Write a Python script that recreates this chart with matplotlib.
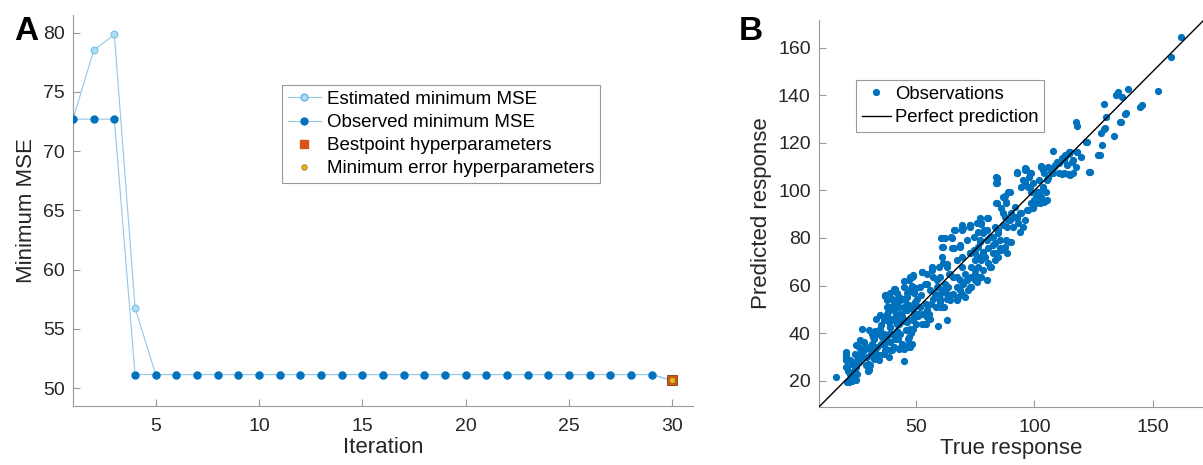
"""
Two-panel figure: (A) hyperparameter optimisation trace, (B) predicted vs true response.
"""

import numpy as np
import matplotlib.pyplot as plt
from matplotlib.lines import Line2D

plt.rcParams.update({
    'font.family': ['Liberation Sans', 'DejaVu Sans'],
    'axes.edgecolor': '#9a9a9a',
    'xtick.color': '#9a9a9a', 'ytick.color': '#9a9a9a',
    'xtick.labelcolor': '#262626', 'ytick.labelcolor': '#262626',
    'xtick.direction': 'in', 'ytick.direction': 'in',
    'axes.spines.top': False, 'axes.spines.right': False,
})

# ── panel A data ─────────────────────────────────────────────────────────────
iterations   = list(range(1, 31))
estimated    = [72.7, 78.5, 79.85, 56.8] + [51.15] * 25 + [50.65]
observed     = [72.7, 72.7, 72.7] + [51.15] * 26 + [50.65]
best_iter    = 30
best_mse     = 50.65

# ── panel B data ─────────────────────────────────────────────────────────────
true_resp = [
    162.0, 157.6, 152.0, 139.6, 135.4, 134.6, 137.1, 129.3, 130.1, 138.2, 136.0, 133.8,
    129.3, 128.2, 128.5, 126.8, 123.1, 121.7, 117.5, 117.8, 117.8, 144.4, 145.5, 107.7,
    114.4, 115.0, 113.0, 112.2, 114.1, 111.6, 110.2, 109.4, 102.9,
    102.8, 104.2, 105.6, 102.1, 103.5, 104.9, 102.8, 104.2, 100.7, 99.3, 101.4, 99.3,
    97.8, 107.0, 108.4, 110.5, 112.6, 116.1, 117.5, 119.6, 116.1, 96.6, 92.6, 95.8,
    97.1, 98.5, 94.3, 89.5, 87.4, 88.1, 91.6, 83.6, 83.6, 83.9, 88.1, 86.0, 97.1, 98.5,
    99.9, 100.6, 95.1, 95.8, 94.3, 93.0, 91.6, 90.2, 88.8, 87.4, 86.7, 84.6, 82.5, 83.2,
    85.3, 90.2, 88.1, 87.4, 86.0, 83.9, 83.2, 81.8, 80.4, 79.0, 77.6, 76.2, 78.3, 80.4,
    84.6, 83.2, 80.4, 77.6, 79.8, 76.2, 78.3, 76.9, 76.2, 74.8, 72.7, 74.8, 73.4, 69.2,
    70.6, 73.4, 72.0, 69.9, 68.5, 67.1, 67.8, 65.7, 63.6, 62.2, 65.7, 64.3, 62.9, 61.5,
    67.1, 65.2, 66.0, 64.6, 61.2, 60.5, 69.2, 72.7, 69.2, 76.9, 77.6, 60.1, 61.5, 62.9,
    64.3, 67.1, 69.2, 73.4, 74.8, 77.6, 74.8, 60.1, 61.5, 62.9, 59.1, 52.4, 54.5, 57.3,
    53.8, 55.9, 58.0, 59.4, 58.7, 56.6, 60.1, 51.7, 52.8, 53.8, 54.5, 55.2, 56.2, 57.3,
    45.4, 46.1, 46.8, 47.5, 48.2, 48.9, 49.6, 47.2, 48.2, 49.2, 50.3, 47.5, 48.9, 47.2,
    40.5, 41.9, 40.8, 42.6, 43.3, 44.0, 44.7, 42.9, 44.7, 46.1, 47.5, 48.2, 46.8, 41.9,
    43.3, 44.7, 39.1, 37.7, 39.8, 41.9, 44.0, 46.1, 44.7, 36.3, 34.9, 38.4, 37.0, 37.7,
    38.4, 39.1, 39.8, 38.8, 40.5, 41.2, 33.2, 34.9, 35.6, 36.3, 34.9, 37.0, 37.7, 30.7,
    31.4, 32.1, 31.0, 32.8, 33.5, 32.1, 32.6, 33.8, 27.1, 27.8, 29.0, 29.3, 30.0, 28.7,
    29.8, 23.1, 25.1, 26.5, 25.8, 24.5, 25.1, 24.4, 20.9, 21.1, 22.3, 21.7, 23.1, 23.7,
    20.6, 20.6, 16.2, 26.5, 27.9, 24.4, 22.3, 30.7, 31.4, 34.2, 36.3, 38.4, 39.8,
    45.0, 48.0, 50.0, 42.0, 44.0, 46.0, 49.0, 51.0, 43.0, 40.0, 38.0, 47.0, 52.0, 50.0,
    45.0, 43.0, 41.0, 39.0,
    69.3, 72.8, 65.1, 60.9, 60.9, 60.9, 68.6, 69.3, 72.8, 77.0, 81.2, 84.6, 79.9, 82.5,
    48.9, 52.4, 56.7, 59.5, 63.0, 63.7, 67.2, 71.4, 75.6, 72.8, 68.6, 70.7, 67.2, 64.4,
    61.6, 58.8, 54.6, 51.7, 48.9, 46.1, 43.3, 40.5, 37.7, 37.0, 41.2, 48.2, 60.2, 60.2,
    63.0, 54.6, 56.0, 52.4, 50.3, 45.4, 43.3, 40.5, 37.7, 39.1, 46.1, 48.9, 77.0, 79.9,
    74.9, 78.4,
    84.1, 84.1, 92.5, 96.0, 98.1, 103.1, 95.3, 98.1, 100.9, 103.7, 105.1, 102.3, 99.5,
    96.7, 93.9, 92.5, 89.7, 88.3, 86.9, 89.0, 86.9, 84.1, 84.8, 81.3, 78.5, 75.7, 72.8,
    70.0, 66.5, 79.9, 74.3, 77.0, 71.5, 68.7, 65.9, 62.3, 85.5, 89.7, 88.3, 82.7, 78.5,
    74.3, 91.1, 93.9, 105.1, 107.3, 108.7,
    114.8, 117.8, 122.1, 123.5, 127.7, 109.4, 111.5, 112.9, 113.6, 115.7, 103.8, 105.9,
    108.0, 112.3, 115.1, 98.7, 96.0, 92.5, 84.1, 138.7, 136.5, 129.8,
    21.0, 22.5, 23.2, 20.4, 20.4, 20.4, 24.6, 26.0, 27.4, 29.5, 30.2, 26.8, 24.6, 28.8,
    31.7, 33.8, 35.2, 37.4, 38.8, 40.1, 42.2, 43.7, 46.4, 47.1, 45.8, 44.3, 41.5, 38.8,
    37.4, 35.2, 31.7, 30.2, 33.0, 36.5, 48.5, 51.3, 54.2, 55.6, 58.3, 61.9, 54.2, 47.1,
    42.9, 50.0,
]
pred_resp = [
    164.5, 156.2, 141.9, 142.7, 141.3, 140.2, 139.2, 136.3, 130.7, 132.2, 128.7, 122.7,
    125.8, 124.2, 119.2, 114.7, 107.7, 120.4, 128.9, 127.2, 116.2, 135.2, 135.7, 116.5,
    115.3, 116.0, 114.1, 113.0, 106.8, 106.8, 107.1, 111.6, 110.3,
    109.9, 107.1, 105.0, 104.3, 101.5, 99.4, 97.3, 95.2, 94.5, 93.1, 99.4, 102.9,
    105.7, 107.8, 109.9, 111.3, 112.7, 107.1, 109.9, 114.1, 112.7, 108.8, 107.3, 103.6,
    101.5, 99.4, 101.5, 99.4, 97.6, 94.5, 93.1, 105.7, 103.2, 94.5, 95.2, 92.4, 91.7, 94.5,
    95.9, 97.3, 84.7, 87.5, 90.3, 86.1, 88.9, 90.3, 87.5, 88.9, 85.4, 83.3, 80.5, 77.7,
    79.1, 78.4, 79.1, 76.3, 74.9, 73.5, 70.7, 67.9, 69.3, 72.1, 70.7, 67.9, 74.2, 75.6,
    81.9, 84.7, 88.2, 86.1, 83.3, 82.6, 81.9, 79.1, 76.3, 73.5, 73.5, 70.7, 67.9, 67.9,
    65.0, 59.4, 58.0, 60.8, 62.2, 59.4, 55.2, 56.6, 59.4, 60.8, 63.6, 65.0, 67.9, 69.3,
    70.7, 75.6, 83.3, 80.2, 76.0, 79.8, 85.4, 84.7, 83.3, 88.2, 85.8, 56.6, 58.0, 56.6,
    53.8, 53.8, 56.6, 63.6, 62.2, 63.6, 66.5, 53.1, 51.0, 54.5, 42.9, 65.7, 65.0, 63.6,
    60.8, 58.0, 56.6, 59.4, 62.2, 67.9, 63.6, 51.0, 48.2, 44.0, 46.8, 51.7, 52.4, 54.5,
    53.8, 49.6, 45.4, 41.9, 46.1, 50.3, 53.1, 58.1, 59.8, 56.7, 54.5, 63.6, 63.9, 62.2,
    49.6, 52.4, 58.5, 46.8, 39.8, 35.6, 28.2, 33.5, 33.5, 34.2, 34.2, 35.6, 37.7, 43.9,
    48.2, 51.0, 51.0, 53.8, 54.5, 56.7, 54.5, 56.7, 59.4, 45.4, 41.9, 39.8, 55.6, 48.1,
    44.6, 42.5, 39.8, 32.8, 34.2, 37.7, 46.1, 47.5, 38.4, 35.6, 30.7, 33.1, 37.0, 33.5,
    35.6, 37.7, 31.4, 32.8, 34.2, 29.3, 40.9, 39.8, 41.6, 36.3, 34.2, 30.0, 25.8, 26.5,
    24.1, 27.2, 28.8, 31.4, 34.2, 20.4, 23.0, 25.1, 25.8, 24.1, 23.0, 19.6, 19.7, 21.8,
    32.2, 29.8, 21.4, 37.0, 32.8, 31.4, 28.6, 26.5, 39.8, 28.6, 31.4, 30.0, 32.8,
    45.0, 40.0, 44.0, 41.0, 47.0, 51.0, 48.0, 47.0, 44.0, 46.0, 49.0, 52.0, 56.0, 59.0,
    62.0, 55.0, 54.0, 57.0,
    84.7, 85.4, 79.8, 79.8, 76.2, 72.0, 76.2, 72.0, 73.5, 72.0, 67.8, 72.0, 79.1, 77.0,
    64.3, 65.7, 66.5, 67.8, 69.2, 65.0, 63.6, 62.2, 61.5, 59.4, 58.0, 55.2, 54.5, 55.9,
    58.0, 59.4, 60.8, 59.4, 57.3, 55.2, 53.8, 52.4, 51.0, 55.9, 58.7, 63.6, 51.0, 54.5,
    45.4, 49.6, 46.1, 44.0, 48.2, 49.6, 46.8, 45.4, 46.8, 42.5, 44.7, 41.9, 63.6, 62.2,
    65.0, 66.5,
    105.0, 102.9, 107.1, 109.2, 107.1, 109.9, 104.3, 101.5, 99.4, 100.1, 95.9, 94.5, 92.4,
    91.7, 90.3, 88.2, 87.5, 84.7, 90.3, 99.4, 97.3, 94.5, 82.6, 80.5, 83.3, 86.1, 85.4,
    84.0, 83.3, 88.2, 80.5, 78.4, 79.1, 77.0, 75.6, 79.8, 75.6, 78.4, 73.5, 73.5, 72.0,
    74.9, 84.7, 82.6, 104.3, 107.1, 110.6,
    116.2, 116.2, 120.4, 107.8, 114.8, 112.0, 113.4, 114.8, 110.6, 112.0, 108.5, 109.9,
    107.1, 107.1, 106.4, 107.1, 108.5, 107.8, 105.0, 132.4, 128.8, 126.1,
    19.4, 21.5, 23.6, 25.7, 31.4, 28.6, 25.7, 27.8, 30.0, 27.2, 24.3, 32.8, 34.9, 34.2,
    32.8, 30.7, 35.6, 33.5, 36.3, 39.8, 37.7, 34.2, 34.9, 38.4, 41.2, 45.4, 48.2, 51.0,
    46.8, 43.3, 38.4, 41.2, 40.5, 39.8, 45.4, 48.2, 44.0, 48.2, 51.0, 51.0, 52.4, 51.0,
    51.0, 51.7,
]
resp_lim = (9.0, 171.6)

# Colours
OBS_COLOR  = '#0072BD'
EST_FACE   = '#a9dcf5'
EST_EDGE   = '#6cb6e0'
LINE_COLOR = '#94c8e8'
BEST_COLOR = '#D95319'
MINE_COLOR = '#EDB120'
TEXT_COLOR = '#262626'
FRAME_GRAY = '#9a9a9a'

fig = plt.figure(figsize=(12.03, 4.65), dpi=100)

# ── panel A ──────────────────────────────────────────────────────────────────
ax = fig.add_axes([0.0607, 0.127, 0.5154, 0.841])
ax.plot(iterations, estimated, '-o', color=LINE_COLOR, lw=0.8,
        ms=5, mfc=EST_FACE, mec=EST_EDGE, mew=0.6, zorder=2)
ax.plot(iterations, observed, '-o', color=LINE_COLOR, lw=0.8,
        ms=5, mfc=OBS_COLOR, mec=OBS_COLOR, zorder=3)
ax.plot([best_iter], [best_mse], 's', ms=7, mfc=BEST_COLOR, mec='#7a3a1a', mew=0.6, zorder=4)
ax.plot([best_iter], [best_mse], 'o', ms=4.5, mfc=MINE_COLOR, mec='#8a6a00', mew=0.5, zorder=5)

ax.set_xlim(1, 31)
ax.set_ylim(48.5, 81.5)
ax.set_xticks([5, 10, 15, 20, 25, 30])
ax.set_yticks([50, 55, 60, 65, 70, 75, 80])
ax.tick_params(labelsize=14, length=5, width=0.8)
ax.tick_params(axis='x', pad=9)
ax.tick_params(axis='y', pad=6)
ax.set_xlabel('Iteration', fontsize=16, color=TEXT_COLOR, labelpad=1)
ax.set_ylabel('Minimum MSE', fontsize=16, color=TEXT_COLOR, labelpad=4)

handles = [
    Line2D([], [], color=LINE_COLOR, lw=0.8, marker='o', ms=5, mfc=EST_FACE, mec=EST_EDGE),
    Line2D([], [], color=LINE_COLOR, lw=0.8, marker='o', ms=5, mfc=OBS_COLOR, mec=OBS_COLOR),
    Line2D([], [], ls='none', marker='s', ms=6, mfc=BEST_COLOR, mec=BEST_COLOR),
    Line2D([], [], ls='none', marker='o', ms=4, mfc=MINE_COLOR, mec='#8a6a00', mew=0.5),
]
labels = ['Estimated minimum MSE', 'Observed minimum MSE',
          'Bestpoint hyperparameters', 'Minimum error hyperparameters']
leg = ax.legend(handles, labels, loc='upper left', bbox_to_anchor=(0.337, 0.82),
                fontsize=13.5, frameon=True, fancybox=False, framealpha=1,
                edgecolor=FRAME_GRAY, handlelength=1.8, handletextpad=0.3,
                labelspacing=0.32, borderpad=0.3, borderaxespad=0)
leg.get_frame().set_linewidth(0.8)

# ── panel B ──────────────────────────────────────────────────────────────────
bx = fig.add_axes([0.6808, 0.125, 0.32, 0.832])
bx.plot(true_resp, pred_resp, 'o', ls='none', ms=4.2, color=OBS_COLOR,
        label='Observations', zorder=2)
bx.plot(resp_lim, resp_lim, '-', color='black', lw=1.0, label='Perfect prediction', zorder=3)
bx.set_xlim(*resp_lim)
bx.set_ylim(*resp_lim)
bx.set_xticks([50, 100, 150])
bx.set_yticks([20, 40, 60, 80, 100, 120, 140, 160])
bx.tick_params(labelsize=14, length=5, width=0.8)
bx.tick_params(axis='x', pad=9)
bx.tick_params(axis='y', pad=6)
bx.set_xlabel('True response', fontsize=16, color=TEXT_COLOR, labelpad=1)
bx.set_ylabel('Predicted response', fontsize=16, color=TEXT_COLOR, labelpad=4)
leg = bx.legend(loc='upper left', bbox_to_anchor=(0.096, 0.845), fontsize=13.3,
                frameon=True, fancybox=False, framealpha=1, edgecolor=FRAME_GRAY,
                handlelength=1.6, handletextpad=0.2, labelspacing=0.35,
                borderpad=0.3, borderaxespad=0)
leg.get_frame().set_linewidth(0.8)

# Panel letters
fig.text(0.012, 0.965, 'A', fontsize=24, fontweight='bold', va='top', ha='left')
fig.text(0.614, 0.965, 'B', fontsize=24, fontweight='bold', va='top', ha='left')

fig.savefig('out.png', dpi=100)
